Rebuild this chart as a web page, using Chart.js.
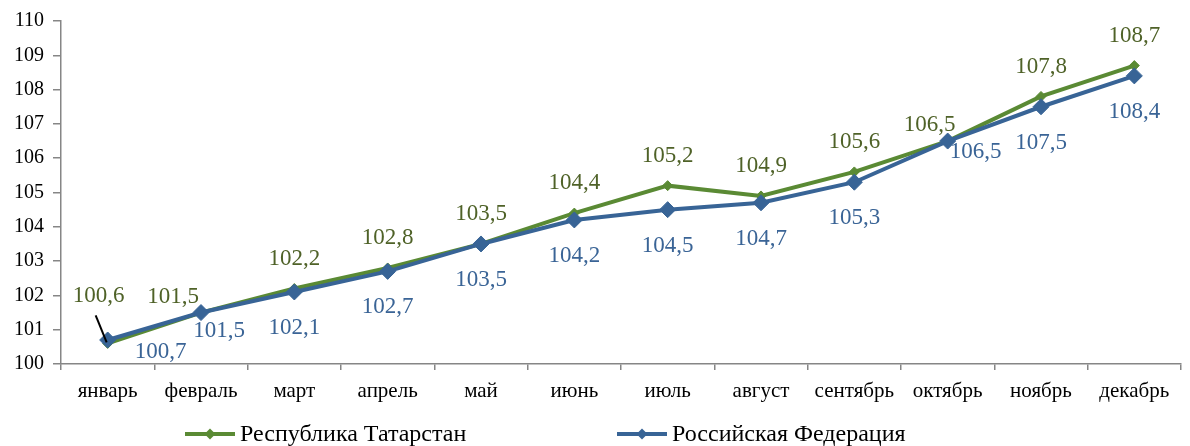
<!DOCTYPE html>
<html>
<head>
<meta charset="utf-8">
<script src="https://cdn.jsdelivr.net/npm/chart.js@4/dist/chart.umd.min.js"></script>
<style>
html,body{margin:0;padding:0;background:#fff;}
#wrap{position:relative;width:1190px;height:446px;}
</style>
</head>
<body>
<div id="wrap"><canvas id="c" width="1190" height="446"></canvas></div>
<script>
const categories = ['январь','февраль','март','апрель','май','июнь','июль','август','сентябрь','октябрь','ноябрь','декабрь'];
const tatarstan = [100.6,101.5,102.2,102.8,103.5,104.4,105.2,104.9,105.6,106.5,107.8,108.7];
const russia = [100.7,101.5,102.1,102.7,103.5,104.2,104.5,104.7,105.3,106.5,107.5,108.4];
const seriesNames = ['Республика Татарстан','Российская Федерация'];
const yTicks = [100,101,102,103,104,105,106,107,108,109,110];

const GREEN_LINE = '#5A8A34';
const GREEN_TEXT = '#4F6228';
const BLUE_LINE = '#386496';
const BLUE_TEXT = '#3A6496';
const FONT = '"Liberation Serif", "Times New Roman", serif';

// label placement (pixel offsets from each point), per series
const greenOffsets = categories.map((_, i) => {
  if (i === 0) return [-9, -47];
  if (i === 1) return [-28, -16];
  if (i === 9) return [-18, -16];
  return [0, -30];
});
const blueOffsets = categories.map((_, i) => {
  if (i === 0) return [53, 12];
  if (i === 1) return [18, 18];
  if (i === 9) return [28, 11];
  return [0, 36];
});

const fmt = v => v.toFixed(1).replace('.', ',');

const labelPlugin = {
  id: 'pointLabels',
  afterDatasetsDraw(chart) {
    const ctx = chart.ctx;
    ctx.save();
    ctx.font = '23px ' + FONT;
    ctx.textAlign = 'center';
    ctx.textBaseline = 'middle';
    chart.data.datasets.forEach((ds, di) => {
      const meta = chart.getDatasetMeta(di);
      const offs = ds.labelOffsets;
      meta.data.forEach((pt, i) => {
        const [dx, dy] = offs[i];
        ctx.fillStyle = ds.labelColor;
        ctx.fillText(fmt(ds.data[i]), pt.x + dx, pt.y + dy);
        if (ds.leader && ds.leader[i]) {
          ctx.strokeStyle = '#000';
          ctx.lineWidth = 2;
          ctx.beginPath();
          ctx.moveTo(pt.x + dx - 3, pt.y + dy + 19);
          ctx.lineTo(pt.x - 1, pt.y - 1);
          ctx.stroke();
        }
      });
    });
    ctx.restore();
  }
};

const legendPlugin = {
  id: 'customLegend',
  afterDraw(chart) {
    const ctx = chart.ctx;
    const y = 434;
    const items = [
      {x: 185, color: GREEN_LINE, text: seriesNames[0]},
      {x: 617, color: BLUE_LINE, text: seriesNames[1]}
    ];
    ctx.save();
    items.forEach(it => {
      ctx.strokeStyle = it.color;
      ctx.lineWidth = 4;
      ctx.beginPath();
      ctx.moveTo(it.x, y);
      ctx.lineTo(it.x + 50, y);
      ctx.stroke();
      ctx.fillStyle = it.color;
      const cx = it.x + 25, r = 5.5;
      ctx.beginPath();
      ctx.moveTo(cx - r, y); ctx.lineTo(cx, y - r); ctx.lineTo(cx + r, y); ctx.lineTo(cx, y + r);
      ctx.closePath(); ctx.fill();
      ctx.fillStyle = '#000';
      ctx.font = '24px ' + FONT;
      ctx.textAlign = 'left';
      ctx.textBaseline = 'middle';
      ctx.fillText(it.text, it.x + 55, y + 1);
    });
    ctx.restore();
  }
};

new Chart(document.getElementById('c'), {
  type: 'line',
  data: {
    labels: categories,
    datasets: [
      {
        label: seriesNames[1],
        data: russia,
        borderColor: BLUE_LINE,
        backgroundColor: BLUE_LINE,
        borderWidth: 4,
        pointStyle: 'rectRot',
        pointRadius: 8,
        pointBorderWidth: 1,
        pointBackgroundColor: BLUE_LINE,
        pointBorderColor: BLUE_LINE,
        tension: 0,
        order: 0,
        labelColor: BLUE_TEXT,
        labelOffsets: blueOffsets
      },
      {
        label: seriesNames[0],
        data: tatarstan,
        borderColor: GREEN_LINE,
        backgroundColor: GREEN_LINE,
        borderWidth: 4,
        pointStyle: 'rectRot',
        pointRadius: 5,
        pointBorderWidth: 1,
        pointBackgroundColor: GREEN_LINE,
        pointBorderColor: GREEN_LINE,
        tension: 0,
        order: 1,
        labelColor: GREEN_TEXT,
        labelOffsets: greenOffsets,
        leader: categories.map((_, i) => i === 0)
      }
    ]
  },
  options: {
    responsive: false,
    animation: false,
    devicePixelRatio: 1,
    layout: {padding: {top: 18, right: 7, bottom: 40, left: 0}},
    plugins: {legend: {display: false}, tooltip: {enabled: false}, title: {display: false}},
    scales: {
      x: {
        offset: true,
        grid: {offset: true, drawOnChartArea: false, drawTicks: true, tickLength: 6, color: '#868686', lineWidth: 1.5},
        border: {display: true, color: '#868686', width: 1.5},
        ticks: {color: '#000', font: {family: FONT, size: 21}, padding: 9, maxRotation: 0, autoSkip: false},
        afterFit(s) { s.height = 42; }
      },
      y: {
        min: 100, max: 110,
        afterBuildTicks(s) { s.ticks = yTicks.map(v => ({value: v})); },
        grid: {drawOnChartArea: false, drawTicks: true, tickLength: 8, color: '#868686', lineWidth: 1.5},
        border: {display: true, color: '#868686', width: 1.5},
        ticks: {color: '#000', font: {family: FONT, size: 20}, padding: 9, callback: v => String(v)},
        afterFit(s) { s.width = 61; }
      }
    }
  },
  plugins: [labelPlugin, legendPlugin]
});
</script>
</body>
</html>
